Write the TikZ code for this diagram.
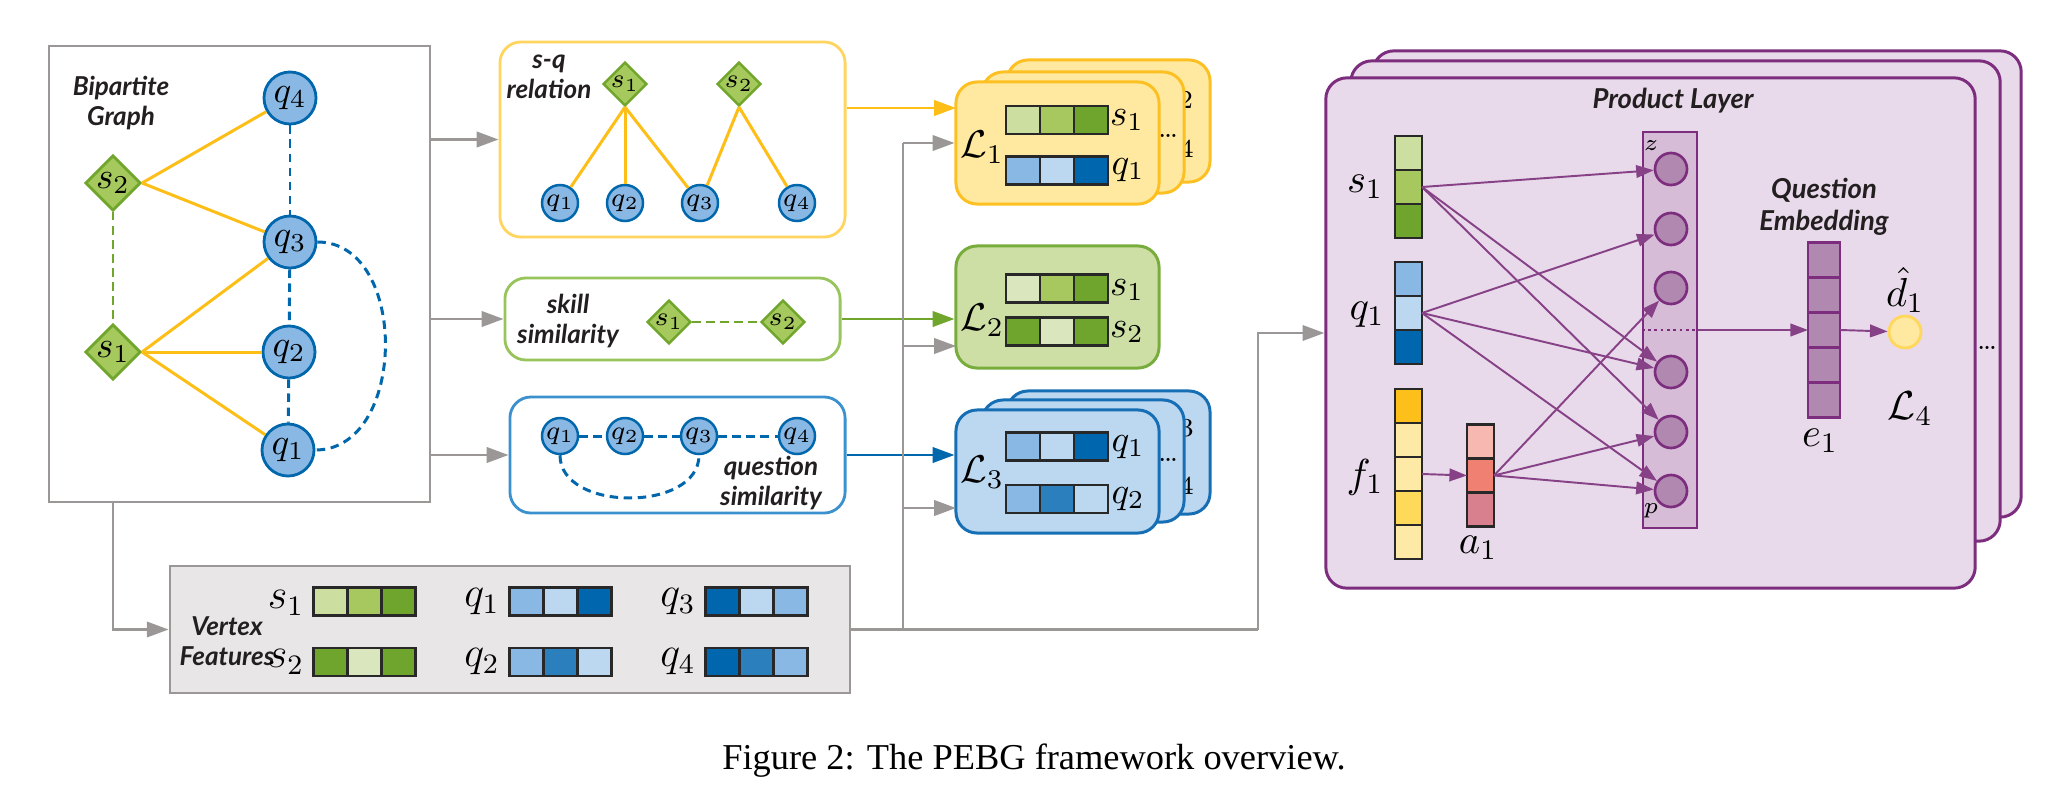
\RequirePackage{fix-cm}
\documentclass[tikz,border=0pt]{standalone}
\usepackage{amsmath}
\usepackage{fontspec}
\usepackage{tikz}
\usetikzlibrary{positioning, arrows.meta, shapes.geometric}
\newfontfamily\lato{Lato}
\newfontfamily\capfont{Liberation Serif}

\definecolor{gline}{RGB}{155,151,151}
\definecolor{yline}{RGB}{253,190,23}
\definecolor{ybox}{RGB}{255,212,95}
\definecolor{sfill}{RGB}{166,201,94}
\definecolor{sline}{RGB}{112,166,44}
\definecolor{kbox}{RGB}{152,196,92}
\definecolor{qfill}{RGB}{138,184,228}
\definecolor{qline}{RGB}{0,103,172}
\definecolor{qbox}{RGB}{58,145,205}
\definecolor{glight}{RGB}{205,223,160}
\definecolor{gmid}{RGB}{166,200,94}
\definecolor{gdark}{RGB}{111,165,44}
\definecolor{gpale}{RGB}{217,230,190}
\definecolor{bmid}{RGB}{138,184,228}
\definecolor{bpale}{RGB}{188,215,240}
\definecolor{bdark}{RGB}{0,102,174}
\definecolor{bdeep}{RGB}{43,127,189}
\definecolor{cellline}{RGB}{40,40,40}
\definecolor{lonefill}{RGB}{255,233,160}
\definecolor{loneline}{RGB}{253,192,35}
\definecolor{ltwofill}{RGB}{205,223,165}
\definecolor{ltwoline}{RGB}{120,172,60}
\definecolor{lthreefill}{RGB}{188,215,240}
\definecolor{lthreeline}{RGB}{22,110,180}
\definecolor{vfill}{RGB}{232,230,230}
\definecolor{purp}{RGB}{125,45,125}
\definecolor{lav}{RGB}{232,218,234}
\definecolor{colfill}{RGB}{214,188,214}
\definecolor{neufill}{RGB}{176,136,176}
\definecolor{parr}{RGB}{135,65,135}
\definecolor{fgold}{RGB}{253,192,26}
\definecolor{fpale}{RGB}{255,233,166}
\definecolor{fyel}{RGB}{255,218,90}
\definecolor{apink}{RGB}{246,184,176}
\definecolor{asalmon}{RGB}{240,128,114}
\definecolor{arose}{RGB}{216,128,142}
\definecolor{dfill}{RGB}{255,233,160}
\definecolor{dline}{RGB}{255,215,90}
\definecolor{ink}{RGB}{35,31,32}

\tikzstyle{panel} = [rectangle, inner sep=0pt, draw=gline, line width=0.7pt]
\tikzstyle{roundpanel} = [rectangle, rounded corners=6pt, inner sep=0pt, line width=0.8pt, fill=white]
\tikzstyle{card} = [rectangle, rounded corners=6pt, inner sep=0pt, line width=0.85pt]
\tikzstyle{qnode} = [circle, draw=qline, fill=qfill, line width=0.8pt, minimum size=0.52cm, inner sep=0pt, font=\fontsize{10.5}{11}\selectfont]
\tikzstyle{snode} = [diamond, shape aspect=1, draw=sline, fill=sfill, line width=0.8pt, minimum size=0.54cm, inner sep=0pt, font=\fontsize{10.5}{11}\selectfont]
\tikzstyle{qsmall} = [qnode, line width=0.7pt, minimum size=0.36cm, font=\fontsize{7.5}{8}\selectfont]
\tikzstyle{ssmall} = [snode, line width=0.7pt, minimum size=0.37cm, font=\fontsize{7.5}{8}\selectfont]
\tikzstyle{rel} = [draw=yline, line width=0.85pt]
\tikzstyle{qdash} = [draw=qline, line width=0.85pt, dash pattern=on 2.4pt off 1.6pt]
\tikzstyle{sdash} = [draw=sline, line width=0.85pt, dash pattern=on 2.4pt off 1.6pt]
\tikzstyle{heading} = [align=center, text=ink, inner sep=0pt, font=\lato\bfseries\itshape\fontsize{7.4}{8.6}\selectfont]
\tikzstyle{arrow} = [line width=0.65pt, ->, >={Triangle[length=6.2pt, width=4.4pt]}]
\tikzstyle{parrow} = [draw=parr, line width=0.55pt, ->, >={Triangle[length=5pt, width=3.6pt]}]
\tikzstyle{cell} = [rectangle, draw=cellline, line width=0.7pt, inner sep=0pt, outer sep=0pt, minimum width=0.34cm, minimum height=0.28cm]
\tikzstyle{vcell} = [cell, minimum width=0.27cm, minimum height=0.34cm]
\tikzstyle{ecell} = [cell, fill=neufill, draw=purp, minimum width=0.32cm, minimum height=0.35cm]
\tikzstyle{lbl} = [inner sep=0pt, font=\fontsize{10.5}{11}\selectfont]
\tikzstyle{biglbl} = [inner sep=0pt, font=\fontsize{12}{12}\selectfont]
\tikzstyle{neuron} = [circle, draw=purp, fill=neufill, line width=0.75pt, minimum size=0.32cm, inner sep=0pt]

% bar of three cells, named by its middle one
\newcommand{\hcells}[6]{%
\node (#1) [cell, fill=#5] at (#2,#3) {};
\node (#1-l) [cell, fill=#4, left=0pt of #1] {};
\node (#1-r) [cell, fill=#6, right=0pt of #1] {};}
\newcommand{\vcells}[6]{%
\node (#1) [vcell, fill=#5] at (#2,#3) {};
\node (#1-t) [vcell, fill=#4, above=0pt of #1] {};
\node (#1-b) [vcell, fill=#6, below=0pt of #1] {};}

\begin{document}
\begin{tikzpicture}[x=0.01cm, y=-0.01cm]
\useasboundingbox (0,0) rectangle (2058,806);

% bipartite graph
\node (bip) [panel, minimum width=3.81cm, minimum height=4.56cm] at (239.5,274) {};
\node (bipt) [heading] at (121,103) {Bipartite\\Graph};
\node (bq4) [qnode] at (290,98) {$q_4$};
\node (bs2) [snode] at (113,183) {$s_2$};
\node (bq3) [qnode] at (290,242) {$q_3$};
\node (bs1) [snode] at (113,352) {$s_1$};
\node (bq2) [qnode] at (289,352) {$q_2$};
\node (bq1) [qnode] at (288,450) {$q_1$};

\draw [rel] (bs2.east) -- (bq4);
\draw [rel] (bs2.east) -- (bq3);
\draw [rel] (bs1.east) -- (bq3);
\draw [rel] (bs1.east) -- (bq2);
\draw [rel] (bs1.east) -- (bq1);
\draw [sdash] (bs2) -- (bs1);
\draw [qdash] (bq4) -- (bq3);
\draw [qdash] (bq3) -- (bq2);
\draw [qdash] (bq2) -- (bq1);
\draw [qdash] (bq3.east) .. controls +(92,0) and +(92,0) .. (bq1.east);

% s-q relation
\node (sqbox) [roundpanel, draw=ybox, minimum width=3.45cm, minimum height=1.95cm] at (672.5,139.5) {};
\node (sqt) [heading] at (549,77) {s-q\\relation};
\node (rs1) [ssmall] at (625,84) {$s_1$};
\node (rs2) [ssmall] at (739,84) {$s_2$};
\node (rq1) [qsmall] at (560,203) {$q_1$};
\node (rq2) [qsmall] at (625,203) {$q_2$};
\node (rq3) [qsmall] at (700,203) {$q_3$};
\node (rq4) [qsmall] at (797,203) {$q_4$};
\draw [rel] (rs1.south) -- (rq1);
\draw [rel] (rs1.south) -- (rq2);
\draw [rel] (rs1.south) -- (rq3);
\draw [rel] (rs2.south) -- (rq3);
\draw [rel] (rs2.south) -- (rq4);

% skill similarity
\node (kbox) [roundpanel, draw=kbox, minimum width=3.35cm, minimum height=0.82cm] at (672.5,319) {};
\node (kt) [heading] at (568,321) {skill\\similarity};
\node (ks1) [ssmall] at (669,322) {$s_1$};
\node (ks2) [ssmall] at (783,322) {$s_2$};
\draw [sdash] (ks1) -- (ks2);

% question similarity
\node (qsbox) [roundpanel, draw=qbox, minimum width=3.35cm, minimum height=1.16cm] at (677.5,455) {};
\node (qst) [heading] at (771,483) {question\\similarity};
\node (sq1) [qsmall] at (560,436) {$q_1$};
\node (sq2) [qsmall] at (625,436) {$q_2$};
\node (sq3) [qsmall] at (699,436) {$q_3$};
\node (sq4) [qsmall] at (797,436) {$q_4$};
\draw [qdash] (sq1) -- (sq2);
\draw [qdash] (sq2) -- (sq3);
\draw [qdash] (sq3) -- (sq4);
\draw [qdash] (sq1.south) .. controls +(0,57) and +(0,57) .. (sq3.south);

\draw [arrow, gline] (bip.east |- sqbox.west) -- (sqbox.west);
\draw [arrow, gline] (bip.east |- kbox.west) -- (kbox.west);
\draw [arrow, gline] (bip.east |- qsbox.west) -- (qsbox.west);

% vertex features
\node (vfeat) [panel, fill=vfill, minimum width=6.80cm, minimum height=1.27cm] at (510,629.5) {};
\node (vft) [heading] at (227,641) {Vertex\\Features};
\node (vs1) [biglbl] at (286,603) {$s_1$};
\node (vs2) [biglbl] at (286,662) {$s_2$};
\node (vq1) [biglbl] at (482,602) {$q_1$};
\node (vq2) [biglbl] at (482,662) {$q_2$};
\node (vq3) [biglbl] at (678,602) {$q_3$};
\node (vq4) [biglbl] at (678,662) {$q_4$};
\hcells{fs1}{364.5}{601.5}{glight}{gmid}{gdark}
\hcells{fs2}{364.5}{662}{gdark}{gpale}{gdark}
\hcells{fq1}{560.5}{601.5}{bmid}{bpale}{bdark}
\hcells{fq2}{560.5}{662}{bmid}{bdeep}{bpale}
\hcells{fq3}{756.5}{601.5}{bdark}{bpale}{bmid}
\hcells{fq4}{756.5}{662}{bdark}{bdeep}{bmid}

% L1 cards
\node (loneback) [card, draw=loneline, fill=lonefill, minimum width=2.03cm, minimum height=1.22cm] at (1108.5,121) {};
\node (lbs) [lbl] at (1178,98) {$s_2$};
\node (lbq) [lbl] at (1179,148) {$q_4$};
\node (lonemid) [card, draw=loneline, fill=lonefill, minimum width=2.02cm, minimum height=1.21cm] at (1083,132.5) {};
\node (lonedots) [lbl, font=\fontsize{8}{8}\selectfont] at (1168,136) {\dots};
\node (lone) [card, draw=loneline, fill=lonefill, minimum width=2.03cm, minimum height=1.22cm] at (1057.5,143) {};
\node (lonet) [lbl, font=\fontsize{11}{11}\selectfont] at (982,147) {$\mathcal{L}_1$};
\hcells{os1}{1057}{120}{glight}{gmid}{gdark}
\hcells{oq1}{1057}{170.5}{bmid}{bpale}{bdark}
\node (os1t) [lbl] at (1127,120) {$s_1$};
\node (oq1t) [lbl] at (1128,170) {$q_1$};

% L2 card
\node (ltwo) [card, draw=ltwoline, fill=ltwofill, minimum width=2.03cm, minimum height=1.22cm] at (1057.5,307) {};
\node (ltwot) [lbl, font=\fontsize{11}{11}\selectfont] at (982,320) {$\mathcal{L}_2$};
\hcells{ts1}{1057}{288.5}{gpale}{gmid}{gdark}
\hcells{ts2}{1057}{331.5}{gdark}{gpale}{gdark}
\node (ts1t) [lbl] at (1127,290) {$s_1$};
\node (ts2t) [lbl] at (1127,332) {$s_2$};

% L3 cards
\node (lthreeback) [card, draw=lthreeline, fill=lthreefill, minimum width=2.03cm, minimum height=1.23cm] at (1108.5,452.5) {};
\node (lbq3) [lbl] at (1179,427) {$q_3$};
\node (lbq4) [lbl] at (1179,485) {$q_4$};
\node (lthreemid) [card, draw=lthreeline, fill=lthreefill, minimum width=2.02cm, minimum height=1.22cm] at (1083,461) {};
\node (lthreedots) [lbl, font=\fontsize{8}{8}\selectfont] at (1168,460) {\dots};
\node (lthree) [card, draw=lthreeline, fill=lthreefill, minimum width=2.03cm, minimum height=1.23cm] at (1057.5,471.5) {};
\node (lthreet) [lbl, font=\fontsize{11}{11}\selectfont] at (982,472) {$\mathcal{L}_3$};
\hcells{hq1}{1057}{446.5}{bmid}{bpale}{bdark}
\hcells{hq2}{1057}{499}{bmid}{bdeep}{bpale}
\node (hq1t) [lbl] at (1128,447) {$q_1$};
\node (hq2t) [lbl] at (1128,499) {$q_2$};

% coloured arrows into the losses
\coordinate (loneyel) at (956,108);
\coordinate (ltwoin) at (956,346);
\coordinate (lthreein) at (956,508);
\draw [arrow, yline] (sqbox.east |- loneyel) -- (loneyel);
\draw [arrow, sline] (kbox.east) -- (kbox.east -| ltwo.west);
\draw [arrow, qline] (qsbox.east) -- (qsbox.east -| lthree.west);

% product layer
\node (pback) [card, draw=purp, fill=lav, minimum width=6.48cm, minimum height=4.66cm] at (1697,284) {};
\node (pmid) [card, draw=purp, fill=lav, minimum width=6.49cm, minimum height=4.80cm] at (1675.5,301) {};
\node (pdots) [lbl, font=\fontsize{8}{8}\selectfont] at (1987,348) {\dots};
\node (prod) [card, draw=purp, fill=lav, minimum width=6.49cm, minimum height=5.10cm] at (1650.5,333) {};
\node (prodt) [heading, font=\lato\bfseries\itshape\fontsize{7.8}{9}\selectfont] at (1673,101) {Product Layer};
\node (col) [rectangle, draw=purp, fill=colfill, line width=0.75pt, inner sep=0pt, minimum width=0.54cm, minimum height=3.96cm] at (1670,330) {};
\draw [draw=purp, line width=0.8pt, dash pattern=on 0.8pt off 1pt] (col.west) -- (col.east);
\node (n1) [neuron] at (1671,169) {};
\node (n2) [neuron] at (1671,229) {};
\node (n3) [neuron] at (1671,288) {};
\node (n4) [neuron] at (1671,372) {};
\node (n5) [neuron] at (1671,432) {};
\node (n6) [neuron] at (1671,491) {};
\node (zl) [lbl, font=\fontsize{6.5}{7}\selectfont] at (1651,146) {$z$};
\node (pl) [lbl, font=\fontsize{6.5}{7}\selectfont] at (1651,511) {$p$};

\vcells{ps1}{1408.5}{187}{glight}{gmid}{gdark}
\vcells{pq1}{1408.5}{313}{bmid}{bpale}{bdark}
\vcells{pf}{1408.5}{474}{fpale}{fpale}{fyel}
\node (pf-tt) [vcell, fill=fgold, above=0pt of pf-t] {};
\node (pf-bb) [vcell, fill=fpale, below=0pt of pf-b] {};
\vcells{pa}{1480.5}{475.5}{apink}{asalmon}{arose}
\node (ps1t) [lbl, font=\fontsize{11.5}{12}\selectfont] at (1365,187) {$s_1$};
\node (pq1t) [lbl, font=\fontsize{11.5}{12}\selectfont] at (1367,315) {$q_1$};
\node (pft) [lbl, font=\fontsize{11.5}{12}\selectfont] at (1365,477) {$f_1$};
\node (pat) [lbl, font=\fontsize{11.5}{12}\selectfont] at (1478,548) {$a_1$};

\draw [parrow] (pf.east) -- (pa.west);
\draw [parrow] (ps1.east) -- (n1);
\draw [parrow] (ps1.east) -- (n4);
\draw [parrow] (ps1.east) -- (n5);
\draw [parrow] (pq1.east) -- (n2);
\draw [parrow] (pq1.east) -- (n4);
\draw [parrow] (pq1.east) -- (n6);
\draw [parrow] (pa.east) -- (n3);
\draw [parrow] (pa.east) -- (n5);
\draw [parrow] (pa.east) -- (n6);

% question embedding
\node (qet) [heading, font=\lato\bfseries\itshape\fontsize{7.8}{9}\selectfont] at (1824,207) {Question\\Embedding};
\node (pe) [ecell] at (1824,330) {};
\node (pe-t) [ecell, above=0pt of pe] {};
\node (pe-tt) [ecell, above=0pt of pe-t] {};
\node (pe-b) [ecell, below=0pt of pe] {};
\node (pe-bb) [ecell, below=0pt of pe-b] {};
\node (pet) [lbl, font=\fontsize{11.5}{12}\selectfont] at (1820,441) {$e_1$};
\node (dhat) [circle, draw=dline, fill=dfill, line width=0.8pt, minimum size=0.32cm, inner sep=0pt] at (1905,332) {};
\node (dhatt) [lbl, font=\fontsize{11.5}{12}\selectfont] at (1905,290) {$\hat{d}_1$};
\node (lfour) [lbl, font=\fontsize{11.5}{12}\selectfont] at (1910,409) {$\mathcal{L}_4$};
\draw [parrow] (col.east) -- (pe.west);
\draw [parrow] (pe.east) -- (dhat);

% grey feature lines
\coordinate (drop) at (113,502);
\coordinate (fork) at (903,629.5);
\coordinate (bend) at (1258,629.5);
\draw [arrow, gline] (drop) |- (vfeat.west);
\draw [gline, line width=0.65pt] (vfeat.east) -- (bend);
\draw [gline, line width=0.65pt] (fork) -- (fork |- lone.west);
\draw [arrow, gline] (fork |- lone.west) -- (lone.west);
\draw [arrow, gline] (fork |- ltwoin) -- (ltwoin);
\draw [arrow, gline] (fork |- lthreein) -- (lthreein);
\draw [arrow, gline] (bend) |- (prod.west);

\node (caption) [font=\capfont\fontsize{10.35}{12}\selectfont] at (1034,761) {Figure 2: The PEBG framework overview.};
\end{tikzpicture}
\end{document}
